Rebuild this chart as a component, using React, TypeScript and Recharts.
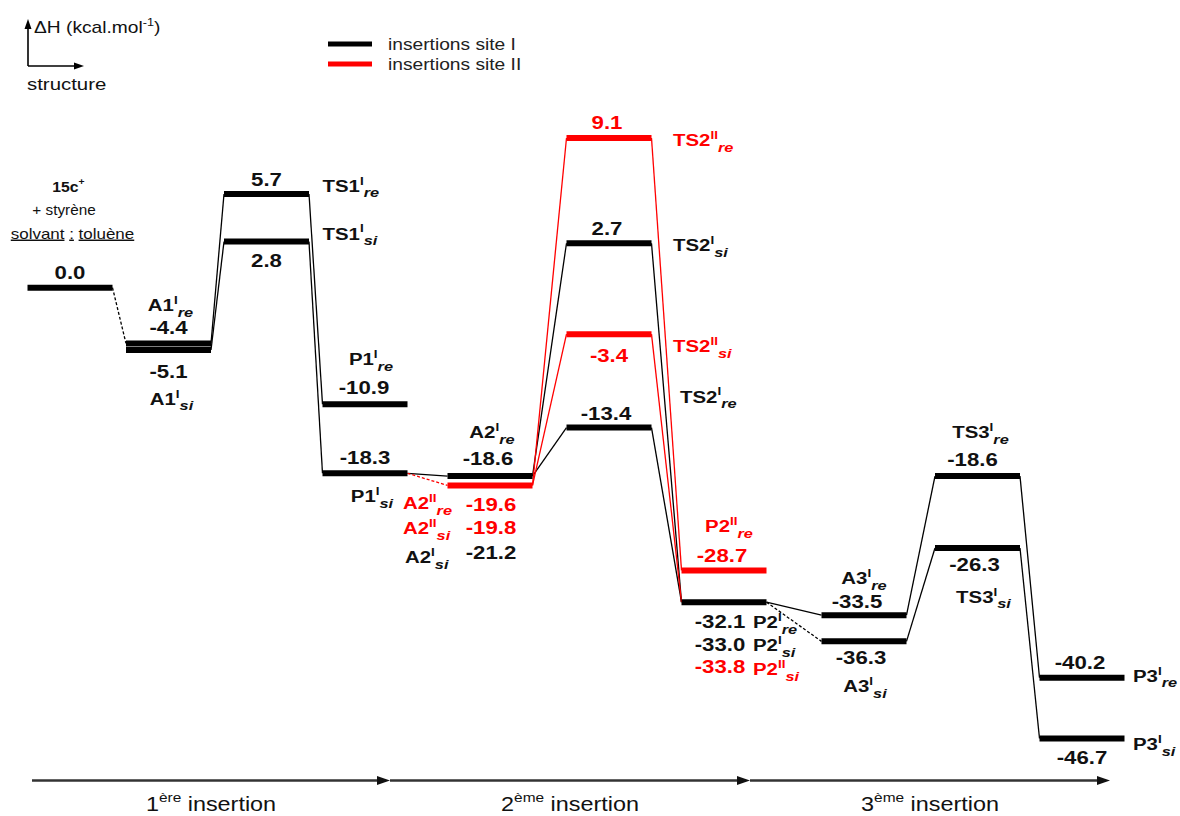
import React from 'react';
import {
  ComposedChart,
  Line,
  Scatter,
  XAxis,
  YAxis,
  ReferenceLine,
  Legend,
} from 'recharts';

// reaction steps, left to right, and their place on the reaction coordinate
const stages = ['R', 'A1', 'TS1', 'P1', 'A2', 'TS2', 'P2', 'A3', 'TS3', 'P3'];
const stageCoord = [0, 0.985, 1.965, 2.95, 4.2, 5.39, 6.54, 7.94, 9.075, 10.12];

const sites = [
  { site: 1, name: 'insertions site I', color: '#000000' },
  { site: 2, name: 'insertions site II', color: '#ff0000' },
];

// ΔH in kcal/mol; name = [base, site, face]
const states = [
  { id: 'R', stage: 'R', name: null, dH: 0.0, site: 1 },
  { id: 'A1re', stage: 'A1', name: ['A1', 'I', 're'], dH: -4.4, site: 1 },
  { id: 'A1si', stage: 'A1', name: ['A1', 'I', 'si'], dH: -5.1, site: 1 },
  { id: 'TS1re', stage: 'TS1', name: ['TS1', 'I', 're'], dH: 5.7, site: 1 },
  { id: 'TS1si', stage: 'TS1', name: ['TS1', 'I', 'si'], dH: 2.8, site: 1 },
  { id: 'P1re', stage: 'P1', name: ['P1', 'I', 're'], dH: -10.9, site: 1 },
  { id: 'P1si', stage: 'P1', name: ['P1', 'I', 'si'], dH: -18.3, site: 1 },
  { id: 'A2re', stage: 'A2', name: ['A2', 'I', 're'], dH: -18.6, site: 1 },
  { id: 'A2IIre', stage: 'A2', name: ['A2', 'II', 're'], dH: -19.6, site: 2 },
  { id: 'A2IIsi', stage: 'A2', name: ['A2', 'II', 'si'], dH: -19.8, site: 2 },
  { id: 'A2si', stage: 'A2', name: ['A2', 'I', 'si'], dH: -21.2, site: 1 },
  { id: 'TS2IIre', stage: 'TS2', name: ['TS2', 'II', 're'], dH: 9.1, site: 2 },
  { id: 'TS2si', stage: 'TS2', name: ['TS2', 'I', 'si'], dH: 2.7, site: 1 },
  { id: 'TS2IIsi', stage: 'TS2', name: ['TS2', 'II', 'si'], dH: -3.4, site: 2 },
  { id: 'TS2re', stage: 'TS2', name: ['TS2', 'I', 're'], dH: -13.4, site: 1 },
  { id: 'P2IIre', stage: 'P2', name: ['P2', 'II', 're'], dH: -28.7, site: 2 },
  { id: 'P2re', stage: 'P2', name: ['P2', 'I', 're'], dH: -32.1, site: 1 },
  { id: 'P2si', stage: 'P2', name: ['P2', 'I', 'si'], dH: -33.0, site: 1 },
  { id: 'P2IIsi', stage: 'P2', name: ['P2', 'II', 'si'], dH: -33.8, site: 2 },
  { id: 'A3re', stage: 'A3', name: ['A3', 'I', 're'], dH: -33.5, site: 1 },
  { id: 'A3si', stage: 'A3', name: ['A3', 'I', 'si'], dH: -36.3, site: 1 },
  { id: 'TS3re', stage: 'TS3', name: ['TS3', 'I', 're'], dH: -18.6, site: 1 },
  { id: 'TS3si', stage: 'TS3', name: ['TS3', 'I', 'si'], dH: -26.3, site: 1 },
  { id: 'P3re', stage: 'P3', name: ['P3', 'I', 're'], dH: -40.2, site: 1 },
  { id: 'P3si', stage: 'P3', name: ['P3', 'I', 'si'], dH: -46.7, site: 1 },
];

// states that have no level of their own in the figure, drawn on a neighbour's level
const sharedBars: Record<string, string> = {
  A2IIsi: 'A2IIre',
  A2si: 'A2IIre',
  P2si: 'P2re',
  P2IIsi: 'P2re',
};

// [from, to, dashed]
const links: [string, string, boolean][] = [
  ['R', 'A1re', true],
  ['A1re', 'TS1re', false],
  ['A1si', 'TS1si', false],
  ['TS1re', 'P1re', false],
  ['TS1si', 'P1si', false],
  ['P1si', 'A2re', false],
  ['P1si', 'A2IIre', true],
  ['A2re', 'TS2si', false],
  ['A2re', 'TS2re', false],
  ['A2IIre', 'TS2IIre', false],
  ['A2IIre', 'TS2IIsi', false],
  ['TS2si', 'P2si', false],
  ['TS2re', 'P2re', false],
  ['TS2IIre', 'P2IIre', false],
  ['TS2IIsi', 'P2IIsi', false],
  ['P2re', 'A3re', false],
  ['P2si', 'A3si', true],
  ['A3re', 'TS3re', false],
  ['A3si', 'TS3si', false],
  ['TS3re', 'P3re', false],
  ['TS3si', 'P3si', false],
];

const insertionBounds = [-0.38, 3.2, 6.8, 10.4];
const insertionNames = [
  ['1', 'ère'],
  ['2', 'ème'],
  ['3', 'ème'],
];
const AXIS_LEVEL = -51.2;

// ---- layout -------------------------------------------------------------

const FONT = '"Liberation Sans", Arial, Helvetica, sans-serif';
const TEXT_STRETCH = 1.2;
const BAR_HALF = 0.425;

type Spot = [number, number, 'start' | 'middle' | 'end'];
// [dx, dy, anchor] of the value and of the name, px from the middle of the level
const labelSpots: Record<string, { v: Spot; n?: Spot }> = {
  R: { v: [0, -9, 'middle'] },
  A1re: { v: [0, -9, 'middle'], n: [2, -32, 'middle'] },
  A1si: { v: [0, 28, 'middle'], n: [3, 55, 'middle'] },
  TS1re: { v: [0, -8, 'middle'], n: [56, -2, 'start'] },
  TS1si: { v: [0, 25, 'middle'], n: [56, -2, 'start'] },
  P1re: { v: [-1, -10, 'middle'], n: [6, -39, 'middle'] },
  P1si: { v: [0, -9, 'middle'], n: [7, 29, 'middle'] },
  A2re: { v: [-2, -11, 'middle'], n: [2, -38, 'middle'] },
  A2IIre: { v: [1, 26, 'middle'], n: [-87, 24, 'start'] },
  A2IIsi: { v: [1, 49, 'middle'], n: [-87, 49, 'start'] },
  A2si: { v: [1, 74, 'middle'], n: [-85, 78, 'start'] },
  TS2IIre: { v: [-2, -9, 'middle'], n: [64, 8, 'start'] },
  TS2si: { v: [-2, -8, 'middle'], n: [64, 8, 'start'] },
  TS2IIsi: { v: [0, 28, 'middle'], n: [64, 18, 'start'] },
  TS2re: { v: [-3, -8, 'middle'], n: [71, -25, 'start'] },
  P2IIre: { v: [-2, -8, 'middle'], n: [5, -38, 'middle'] },
  P2re: { v: [-4, 26, 'middle'], n: [29, 26, 'start'] },
  P2si: { v: [-4, 49, 'middle'], n: [29, 49, 'start'] },
  P2IIsi: { v: [-4, 71, 'middle'], n: [29, 73, 'start'] },
  A3re: { v: [-7, -7, 'middle'], n: [0, -31, 'middle'] },
  A3si: { v: [-3, 23, 'middle'], n: [1, 51, 'middle'] },
  TS3re: { v: [-5, -10, 'middle'], n: [3, -38, 'middle'] },
  TS3si: { v: [-3, 23, 'middle'], n: [6, 55, 'middle'] },
  P3re: { v: [-2, -9, 'middle'], n: [51, 4, 'start'] },
  P3si: { v: [0, 26, 'middle'], n: [51, 12, 'start'] },
};

// the figure is not to scale: energies above 0 are drawn stretched and
// there is a small break just below 0
const POS_STRETCH = 1.76;
const NEG_GAP = 1.58;
const warp = (v: number) => (v >= 0 ? v * POS_STRETCH : v - NEG_GAP);
const unwarp = (t: number) => (t >= 0 ? t / POS_STRETCH : Math.min(t + NEG_GAP, 0));

function stretchedScale(dom: number[] = [0, 1], rng: number[] = [0, 1]): any {
  const s: any = (value: number) => {
    const a = warp(dom[0]);
    const b = warp(dom[dom.length - 1]);
    return rng[0] + ((warp(Number(value)) - a) / (b - a)) * (rng[rng.length - 1] - rng[0]);
  };
  s.domain = (d?: any[]) => {
    if (d === undefined) return dom.slice();
    dom = d.map(Number);
    return s;
  };
  s.range = (r?: any[]) => {
    if (r === undefined) return rng.slice();
    rng = r.map(Number);
    return s;
  };
  s.rangeRound = s.range;
  s.copy = () => stretchedScale(dom.slice(), rng.slice());
  s.invert = (px: number) => {
    const a = warp(dom[0]);
    const b = warp(dom[dom.length - 1]);
    return unwarp(a + ((px - rng[0]) / (rng[rng.length - 1] - rng[0])) * (b - a));
  };
  s.ticks = () => {
    const out: number[] = [];
    for (let v = Math.ceil(dom[0] / 10) * 10; v <= dom[dom.length - 1]; v += 10) out.push(v);
    return out;
  };
  s.tickFormat = () => (v: number) => String(v);
  s.nice = () => s;
  s.clamp = (c?: boolean) => (c === undefined ? false : s);
  s.unknown = (u?: any) => (u === undefined ? undefined : s);
  s.interpolate = (i?: any) => (i === undefined ? undefined : s);
  return s;
}

const stateById = Object.fromEntries(states.map((s) => [s.id, s]));
const barOf = (id: string) => stateById[sharedBars[id] ?? id];
const coordOf = (stage: string) => stageCoord[stages.indexOf(stage)];
const siteColor = (site: number) => sites.find((s) => s.site === site)!.color;
const textColor = (site: number) => (site === 2 ? '#ff0000' : '#111111');

type Part = { t: string; sup?: boolean; sub?: boolean; u?: boolean };

function Rich({
  x,
  y,
  parts,
  size,
  bold = true,
  color = '#111111',
  anchor = 'middle',
  stretch = TEXT_STRETCH,
}: {
  x: number;
  y: number;
  parts: Part[];
  size: number;
  bold?: boolean;
  color?: string;
  anchor?: string;
  stretch?: number;
}) {
  let shift = 0;
  return (
    <g transform={`translate(${x},${y}) scale(${stretch},1)`}>
      <text
        x={0}
        y={0}
        textAnchor={anchor as any}
        fontFamily={FONT}
        fontSize={size}
        fontWeight={bold ? 700 : 400}
        fill={color}
      >
        {parts.map((p, i) => {
          const target = p.sup ? -0.42 * size : p.sub ? 0.32 * size : 0;
          const dy = target - shift;
          shift = target;
          return (
            <tspan
              key={i}
              dy={dy}
              fontSize={p.sup ? size * 0.66 : p.sub ? size * 0.8 : size}
              fontStyle={p.sub ? 'italic' : 'normal'}
              style={p.u ? { textDecoration: 'underline' } : undefined}
            >
              {p.t}
            </tspan>
          );
        })}
      </text>
    </g>
  );
}

// series built from the tables above
const barSeries = states
  .filter((s) => !sharedBars[s.id])
  .map((s) => {
    const c = coordOf(s.stage);
    return {
      id: s.id,
      color: siteColor(s.site),
      data: [
        { x: c - BAR_HALF, y: s.dH },
        { x: c + BAR_HALF, y: s.dH },
      ],
    };
  });

const linkSeries = links.map(([from, to, dashed]) => {
  const a = barOf(from);
  const b = barOf(to);
  return {
    id: `${from}-${to}`,
    color: siteColor(stateById[to].site),
    dashed,
    data: [
      { x: coordOf(a.stage) + BAR_HALF, y: a.dH },
      { x: coordOf(b.stage) - BAR_HALF, y: b.dH },
    ],
  };
});

const labelRows = states.flatMap((s) => {
  const bar = barOf(s.id);
  const x = coordOf(bar.stage);
  const y = bar.dH;
  const spot = labelSpots[s.id];
  const color = textColor(s.site);
  const rows: any[] = [
    {
      x,
      y,
      parts: [{ t: s.dH.toFixed(1) }],
      size: 18.5,
      bold: true,
      color,
      dx: spot.v[0],
      dy: spot.v[1],
      anchor: spot.v[2],
    },
  ];
  if (s.name && spot.n) {
    rows.push({
      x,
      y,
      parts: [{ t: s.name[0] }, { t: s.name[1], sup: true }, { t: s.name[2], sub: true }],
      size: 17,
      bold: true,
      color,
      dx: spot.n[0],
      dy: spot.n[1],
      anchor: spot.n[2],
    });
  }
  return rows;
});

// starting system, written above the reference level
const startNote = [
  { parts: [{ t: '15c' }, { t: '+', sup: true }], bold: true, size: 15, dx: -1.5, dy: -96, stretch: 1.05 },
  { parts: [{ t: '+ styrène' }], bold: false, size: 15, dx: -6, dy: -73, stretch: 1.02 },
  {
    parts: [{ t: 'solvant', u: true }, { t: ' ' }, { t: ':', u: true }, { t: ' ' }, { t: 'toluène', u: true }],
    bold: false,
    size: 14.5,
    dx: 2.5,
    dy: -49,
    stretch: 1.17,
  },
];
startNote.forEach((n) =>
  labelRows.push({
    x: coordOf('R'),
    y: stateById.R.dH,
    parts: n.parts,
    size: n.size,
    bold: n.bold,
    color: '#111111',
    dx: n.dx,
    dy: n.dy,
    anchor: 'middle',
    stretch: n.stretch,
  })
);

const drawLabel = (p: any) => {
  const d = p.payload;
  return (
    <Rich
      x={p.cx + d.dx}
      y={p.cy + d.dy}
      parts={d.parts}
      size={d.size}
      bold={d.bold}
      color={d.color}
      anchor={d.anchor}
      stretch={d.stretch ?? TEXT_STRETCH}
    />
  );
};

const insertionArrow = (name: string[]) => (p: any) => {
  const { x1, y1, x2 } = p;
  return (
    <g>
      <line x1={x1} y1={y1} x2={x2 - 8} y2={y1} stroke="#333333" strokeWidth={2.5} />
      <polygon
        points={`${x2},${y1} ${x2 - 13},${y1 - 4.5} ${x2 - 13},${y1 + 4.5}`}
        fill="#111111"
      />
      <Rich
        x={(x1 + x2) / 2}
        y={y1 + 30}
        parts={[{ t: name[0] }, { t: name[1], sup: true }, { t: ' insertion' }]}
        size={19.5}
        bold={false}
      />
    </g>
  );
};

const renderLegend = () => (
  <svg width={260} height={50}>
    {sites.map((s, i) => (
      <g key={s.name}>
        <line x1={8} x2={52} y1={14 + i * 20} y2={14 + i * 20} stroke={s.color} strokeWidth={5} />
        <Rich x={68} y={20 + i * 20} parts={[{ t: s.name }]} size={16} bold={false} anchor="start" color="#222222" />
      </g>
    ))}
  </svg>
);

export default function App() {
  return (
    <div style={{ position: 'absolute', left: 0, top: 0, width: 1180, height: 816, background: '#ffffff' }}>
      <ComposedChart width={1180} height={816} margin={{ top: 0, right: 0, bottom: 0, left: 0 }}>
        <XAxis type="number" dataKey="x" domain={[-0.7, 11.1]} allowDataOverflow hide />
        <YAxis
          type="number"
          dataKey="y"
          domain={[-55, 17.5]}
          scale={stretchedScale()}
          allowDataOverflow
          hide
        />
        <Legend
          layout="horizontal"
          align="center"
          verticalAlign="middle"
          wrapperStyle={{ left: 320, top: 30, width: 260, height: 50 }}
          content={renderLegend}
        />
        {linkSeries.map((l) => (
          <Line
            key={l.id}
            data={l.data}
            dataKey="y"
            stroke={l.color}
            strokeWidth={1.3}
            strokeDasharray={l.dashed ? '3 2' : undefined}
            dot={false}
            activeDot={false}
            legendType="none"
            isAnimationActive={false}
          />
        ))}
        {barSeries.map((b) => (
          <Line
            key={b.id}
            data={b.data}
            dataKey="y"
            stroke={b.color}
            strokeWidth={6}
            dot={false}
            activeDot={false}
            legendType="none"
            isAnimationActive={false}
          />
        ))}
        {insertionNames.map((n, i) => (
          <ReferenceLine
            key={n.join('')}
            segment={[
              { x: insertionBounds[i], y: AXIS_LEVEL },
              { x: insertionBounds[i + 1], y: AXIS_LEVEL },
            ]}
            ifOverflow="visible"
            shape={insertionArrow(n)}
          />
        ))}
        <Scatter data={labelRows} shape={drawLabel} legendType="none" isAnimationActive={false} />
      </ComposedChart>
      <svg
        width={200}
        height={100}
        style={{ position: 'absolute', left: 0, top: 0, pointerEvents: 'none' }}
      >
        <line x1={28} y1={66} x2={28} y2={27} stroke="#000000" strokeWidth={1.6} />
        <polygon points="28,19 24.5,29 31.5,29" fill="#000000" />
        <line x1={28} y1={66} x2={75} y2={66} stroke="#000000" strokeWidth={1.6} />
        <polygon points="84,66 74,62.5 74,69.5" fill="#000000" />
        <Rich
          x={34}
          y={33}
          anchor="start"
          parts={[{ t: 'ΔH (kcal.mol' }, { t: '-1', sup: true }, { t: ')' }]}
          size={16}
          bold={false}
        />
        <Rich x={27} y={90} anchor="start" parts={[{ t: 'structure' }]} size={17} bold={false} />
      </svg>
    </div>
  );
}
